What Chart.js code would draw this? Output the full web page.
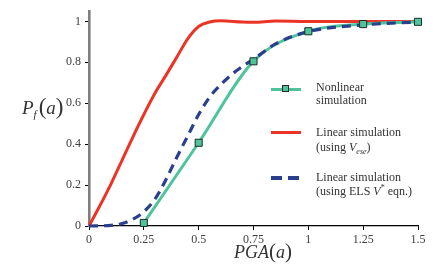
<!DOCTYPE html>
<html>
<head>
<meta charset="utf-8">
<script src="https://cdn.jsdelivr.net/npm/chart.js@4"></script>
<style>
  html, body { margin:0; padding:0; background:#fff; }
  #wrap { position:relative; width:435px; height:265px; overflow:hidden; font-family:"Liberation Serif","DejaVu Serif",serif; color:#333; }
  #c { position:absolute; left:0; top:0; }
  .t { position:absolute; white-space:nowrap; color:#333; }
  .leg { position:absolute; left:316px; font-size:12px; color:#333; line-height:14px; white-space:nowrap; }
  .sw { position:absolute; height:3px; }
  i { font-style:italic; }
  sub, sup { font-size:8px; line-height:0; }
</style>
</head>
<body>
<div id="wrap">
  <canvas id="c" width="435" height="265"></canvas>
  <div class="t" id="ytitle" style="left:22px;top:94px;font-size:19px;"><i>P</i><sub style="font-size:11px;font-style:italic;vertical-align:-4px;">f</sub><span style="font-size:23px;margin-left:2px;">(</span><i>a</i><span style="font-size:23px;">)</span></div>
  <div class="t" id="xtitle" style="left:234px;top:239px;font-size:18px;"><i>PGA</i><span style="font-size:21px;">(</span><i>a</i><span style="font-size:21px;">)</span></div>

  <div class="sw" style="left:271px;top:88px;width:30px;background:#4fc39a;"></div>
  <div style="position:absolute;left:282px;top:85px;width:7px;height:7px;background:#4fc39a;border:1px solid #1e2a2a;box-sizing:border-box;"></div>
  <div class="leg" style="top:81px;line-height:12.8px;">Nonlinear<br>simulation</div>

  <div class="sw" style="left:271px;top:131px;width:30px;background:#ea3526;"></div>
  <div class="leg" style="top:125px;line-height:14.6px;">Linear simulation<br>(using <i>V</i><sub><i>ese</i></sub>)</div>

  <div class="sw" style="left:271px;top:176px;width:11px;height:3.5px;background:#2a3f8e;"></div>
  <div class="sw" style="left:288px;top:176px;width:11px;height:3.5px;background:#2a3f8e;"></div>
  <div class="leg" style="top:170px;line-height:14.4px;">Linear simulation<br>(using ELS <i>V</i><sup>*</sup> eqn.)</div>
</div>
<script>
// ---- data ----
const nonlinearX = [0.25, 0.5, 0.75, 1.0, 1.25, 1.5];
const nonlinearY = [0.015, 0.407, 0.805, 0.952, 0.987, 0.998];

const linearVeseX = [0, 0.05, 0.1, 0.15, 0.2, 0.25, 0.3, 0.35, 0.4, 0.45, 0.5, 0.55, 0.6, 0.7, 0.75, 0.85, 1.0, 1.25, 1.5];
const linearVeseY = [0, 0.1, 0.205, 0.32, 0.435, 0.545, 0.648, 0.735, 0.825, 0.915, 0.975, 0.997, 1.003, 0.997, 0.996, 1.002, 1.0, 1.0, 1.0];

const linearElsX = [0, 0.1, 0.15, 0.2, 0.25, 0.3, 0.35, 0.4, 0.45, 0.5, 0.55, 0.6, 0.65, 0.7, 0.75, 0.85, 1.0, 1.25, 1.5];
const linearElsY = [0, 0.003, 0.012, 0.033, 0.07, 0.13, 0.225, 0.335, 0.44, 0.545, 0.63, 0.69, 0.74, 0.78, 0.815, 0.89, 0.95, 0.983, 0.997];

const xTickValues = [0, 0.25, 0.5, 0.75, 1, 1.25, 1.5];
const xTickLabels = ['0', '0.25', '0.5', '0.75', '1', '1.25', '1.5'];
const yTickValues = [0, 0.2, 0.4, 0.6, 0.8, 1];
const yTickLabels = ['0', '0.2', '0.4', '0.6', '0.8', '1'];

const pts = (xs, ys) => xs.map((x, i) => ({x: x, y: ys[i]}));

const GREEN = '#4fc39a', RED = '#ea3526', BLUE = '#2a3f8e';

new Chart(document.getElementById('c'), {
  type: 'line',
  data: {
    datasets: [
      { data: pts(linearVeseX, linearVeseY), borderColor: RED, borderWidth: 3, pointRadius: 0,
        cubicInterpolationMode: 'monotone', order: 4, clip: false },
      { data: pts(nonlinearX, nonlinearY), borderColor: GREEN, borderWidth: 3, pointRadius: 0,
        cubicInterpolationMode: 'monotone', order: 3, clip: false },
      { data: pts(linearElsX, linearElsY), borderColor: BLUE, borderWidth: 3.2, borderDash: [9, 6], pointRadius: 0,
        cubicInterpolationMode: 'monotone', order: 2, clip: false },
      { data: pts(nonlinearX, nonlinearY), showLine: false, pointStyle: 'rect', pointRadius: 5,
        pointBackgroundColor: GREEN, pointBorderColor: '#1e2a2a', pointBorderWidth: 1, order: 1, clip: false }
    ]
  },
  options: {
    responsive: false,
    animation: false,
    events: [],
    layout: { padding: { top: 8, right: 17, left: 0, bottom: 0 } },
    plugins: { legend: { display: false }, tooltip: { enabled: false } },
    scales: {
      x: {
        type: 'linear', min: 0, max: 1.5,
        afterBuildTicks: s => { s.ticks = xTickValues.map(v => ({value: v})); },
        afterFit: s => { s.height = 39; },
        ticks: { color: '#404040', font: { family: 'Liberation Serif', size: 12 }, padding: 3, maxRotation: 0, autoSkip: false,
                 callback: (v, i) => xTickLabels[i] },
        grid: { display: true, drawOnChartArea: false, drawTicks: true, tickLength: 4, tickColor: '#000', tickWidth: 1 },
        border: { color: '#000', width: 1.2 }
      },
      y: {
        type: 'linear', min: 0, max: 1.05,
        afterBuildTicks: s => { s.ticks = yTickValues.map(v => ({value: v})); },
        afterFit: s => { s.width = 89; },
        ticks: { color: '#404040', font: { family: 'Liberation Serif', size: 12 }, padding: 4, autoSkip: false,
                 callback: (v, i) => yTickLabels[i] },
        grid: { display: true, drawOnChartArea: false, drawTicks: true, tickLength: 4, tickColor: '#000', tickWidth: 1 },
        border: { color: '#7f7f7f', width: 2.6 }
      }
    }
  }
});
</script>
</body>
</html>
